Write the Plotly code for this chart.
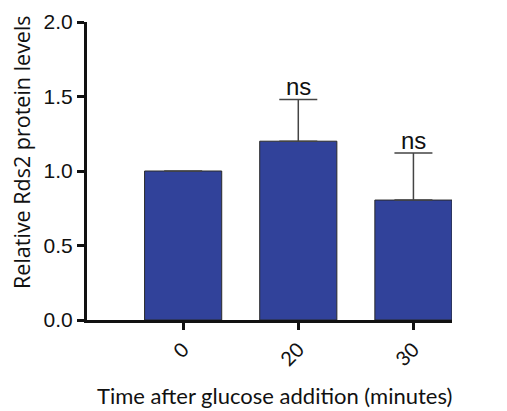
import plotly.graph_objects as go

categories = ["0", "20", "30"]
values = [1.0, 1.2, 0.805]
errors_up = [None, 0.28, 0.315]
sig_labels = ["", "ns", "ns"]

xpos = list(range(len(categories)))

fig = go.Figure()
fig.add_trace(go.Bar(
    x=xpos, y=values, width=0.67,
    marker=dict(color="#31429A", line=dict(color="#2a2a2a", width=1)),
    error_y=dict(type="data", symmetric=False, array=errors_up,
                 arrayminus=[0] * len(values), color="#444444",
                 thickness=1.5, width=19, visible=True),
    showlegend=False,
))

for x, v, e, s in zip(xpos, values, errors_up, sig_labels):
    if s:
        fig.add_annotation(x=x, y=v + (e or 0), text=s, showarrow=False,
                           yanchor="bottom", yshift=-3,
                           font=dict(family="Liberation Sans, Arial", size=24, color="#111"))

fig.add_annotation(xref="paper", yref="paper", x=0.515, y=-0.252,
                   xanchor="center", yanchor="middle", showarrow=False,
                   text="Time after glucose addition (minutes)",
                   font=dict(family="Lato, Open Sans", size=22, color="#111"))
fig.add_annotation(xref="paper", yref="paper", x=-0.18, y=0.565,
                   xanchor="center", yanchor="middle", showarrow=False,
                   textangle=-90, text="Relative Rds2 protein levels",
                   font=dict(family="Open Sans", size=21.5, color="#111"))

fig.update_layout(
    width=499, height=403,
    margin=dict(l=79, r=55, t=14, b=91, autoexpand=False),
    paper_bgcolor="white", plot_bgcolor="white",
    xaxis=dict(range=[-0.835, 2.335], tickvals=xpos, ticktext=categories,
               tickangle=-45, showline=True, linecolor="#111", linewidth=3,
               ticks="outside", ticklen=7, tickwidth=3, tickcolor="#111",
               showgrid=False, zeroline=False, automargin=False,
               tickfont=dict(family="Lato, Open Sans", size=20, color="#111")),
    yaxis=dict(range=[0, 2.0], tickvals=[0, 0.5, 1.0, 1.5, 2.0],
               ticktext=["0.0", "0.5", "1.0", "1.5", "2.0"],
               showline=True, linecolor="#111", linewidth=3,
               ticks="outside", ticklen=7, tickwidth=3, tickcolor="#111",
               showgrid=False, zeroline=False, automargin=False,
               tickfont=dict(family="Liberation Sans, Arial", size=21, color="#111")),
)

fig.write_html("out.html")
